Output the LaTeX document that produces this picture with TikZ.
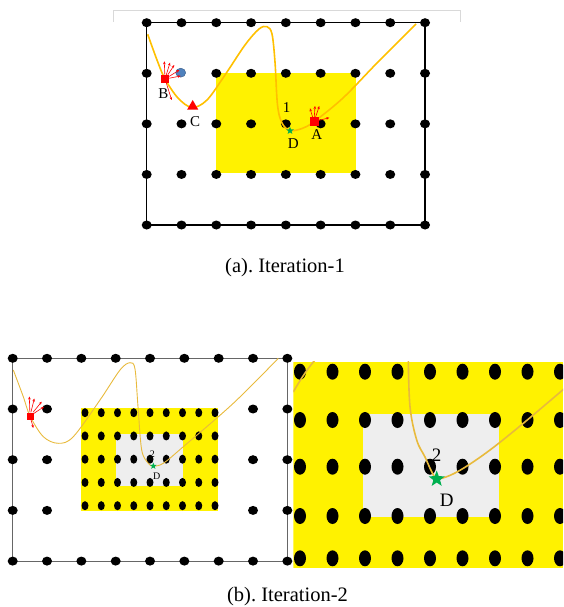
\documentclass[tikz,border=0pt]{standalone}
\usepackage{fontspec}
\setmainfont{Liberation Serif}
\usepackage{tikz}
\usetikzlibrary{shapes.geometric, arrows.meta}
\definecolor{pathorange}{RGB}{255,192,0}
\definecolor{pathdull}{RGB}{232,186,60}
\definecolor{markgreen}{RGB}{0,176,80}
\definecolor{blob}{RGB}{79,129,189}
\definecolor{zoomgray}{RGB}{238,238,238}
\tikzset{
  dot/.style={ellipse, fill=black, inner sep=0pt, minimum width=10pt, minimum height=9pt},
  fdot/.style={dot, minimum width=7pt, minimum height=9pt},
  bdot/.style={dot, minimum width=12pt, minimum height=16pt},
  robot/.style={rectangle, fill=red, inner sep=0pt, minimum size=#1},
  goal/.style={star, star points=5, star point ratio=2.4, fill=markgreen, inner sep=0pt, minimum size=#1},
  lbl/.style={inner sep=0pt, font=\fontsize{#1}{#1}\selectfont},
  probe/.style={red, line width=0.6pt, -{Stealth[length=3pt, width=2.6pt]}},
}
\begin{document}
\begin{tikzpicture}[x=1pt, y=-1pt]
\useasboundingbox (0,0) rectangle (563,607);
\draw[black!15, line width=0.8pt] (113,22) |- (460,10) -- (460,22);
\fill[yellow] (216,72.7) rectangle (355.7,173.3);
\draw[line width=1.2pt] (146.7,22.7) rectangle (425,225);
\foreach \j in {0,2,3,4} \foreach \i in {0,...,8}
  \node[dot] (g-\i-\j) at ({146.7+\i*34.79}, {22.7+\j*50.58}) {};
\foreach \i in {0,2,3,4,5,6,7,8}
  \node[dot] (g-\i-1) at ({146.7+\i*34.79}, 73.3) {};
\draw[pathorange, line width=1.6pt] plot[smooth, tension=0.55] coordinates {(147.7,34.3) (157,60) (165,79) (178,98) (192,107.5) (207,100) (225,75) (245,45) (259,29) (267,26.7) (272,34) (275,62) (277.5,105) (282,123) (290,130.5) (302,128.5) (314,121.7) (343,98) (377,63) (416,24)};
\node[ellipse, fill=blob, draw=blob!70!black, inner sep=0pt, minimum width=10pt, minimum height=9pt] (obst) at (180.7,72.7) {};
\node[robot=8pt] (B) at (165,79) {};
\foreach \px/\py [count=\k] in {164.3/61.3, 170/62.7, 174.3/65, 179.3/70, 180.7/76, 171.7/100}
  \coordinate (b\k) at (\px,\py);
\foreach \k in {1,...,6} \draw[probe] (B) -- (b\k);
\node[regular polygon, regular polygon sides=3, fill=red, inner sep=0pt, minimum size=13pt] (C) at (192.7,106.5) {};
\node[robot=9pt] (A) at (314,121.7) {};
\foreach \px/\py [count=\k] in {310/108.3, 315/106, 319.3/106, 329.3/117.7}
  \coordinate (a\k) at (\px,\py);
\foreach \k in {1,...,4} \draw[probe] (A) -- (a\k);
\node[goal=8pt] (D) at (290,130.7) {};
\node[lbl=15] (lB) at (163.3,93.3) {B};
\node[lbl=15] (lC) at (195,121.7) {C};
\node[lbl=15] (l1) at (286.7,107.3) {1};
\node[lbl=15] (lD) at (293.3,143.3) {D};
\node[lbl=15] (lA) at (316.7,135) {A};
\node[lbl=20.5] (capa) at (285,268) {(a).\ Iteration-1};
\fill[yellow] (81,408.3) rectangle (218.3,510.7);
\fill[zoomgray] (116,434.3) rectangle (183.3,485.7);
\draw[black!60, line width=0.9pt] (12.7,358.3) rectangle (287.3,561);
\foreach \j in {0,4} \foreach \i in {0,...,8}
  \node[dot] (h-\i-\j) at ({12.7+\i*34.33}, {358.3+\j*50.7}) {};
\foreach \j in {1,2,3} \foreach \i in {0,1,7,8}
  \node[dot] (h-\i-\j) at ({12.7+\i*34.33}, {358.3+\j*50.7}) {};
\foreach \j in {0,...,4} \foreach \i in {0,...,8}
  \node[fdot] (f-\i-\j) at ({85+\i*16.25}, {412.7+\j*23.25}) {};
\draw[pathdull, line width=0.9pt] plot[smooth, tension=0.55] coordinates {(13.3,370) (23.3,396.7) (30,416) (43.3,436.7) (58.3,443.3) (73.3,436.7) (100,400) (120,370) (130,362.7) (135,369) (138,406.7) (141.7,450) (148.3,463.3) (153.3,466) (163.3,463.3) (183.3,446.7) (233.3,403.3) (278.3,358.3)};
\node[robot=7pt] (R) at (30,416) {};
\foreach \px/\py [count=\k] in {29.3/396.5, 34.3/398.5, 41.7/401.7, 44/406.7, 33.3/428}
  \coordinate (r\k) at (\px,\py);
\foreach \k in {1,...,5} \draw[probe] (R) -- (r\k);
\node[goal=7pt] (D2) at (153.3,466) {};
\node[lbl=10] (l2) at (152.3,454) {2};
\node[lbl=10] (lD2) at (156.7,476) {D};
\begin{scope}
\clip (293.3,361.7) rectangle (563,568);
\fill[yellow] (293.3,361.7) rectangle (563,568);
\fill[zoomgray] (362.7,414) rectangle (499.3,516.7);
\foreach \y [count=\j] in {371.7,420,466.7,516,558.3} \foreach \i in {0,...,8}
  \node[bdot] (z-\i-\j) at ({300+\i*32.5}, \y) {};
\draw[pathdull, line width=1.6pt] (293.3,392) .. controls (300,380) and (308,368) .. (315,360);
\draw[pathdull, line width=1.6pt] plot[smooth, tension=0.6] coordinates {(408.3,358) (410,406.7) (416.7,440) (425,457) (431.7,471.7) (436.7,478.3) (446.7,476.7) (463.3,468.3) (490,450) (523.3,423.3) (565,388)};
\end{scope}
\node[goal=17pt] (D3) at (436.7,479) {};
\node[lbl=19] (l3) at (436.7,455) {2};
\node[lbl=19] (lD3) at (446.7,500) {D};
\node[lbl=20.5] (capb) at (287.5,597) {(b).\ Iteration-2};
\end{tikzpicture}
\end{document}
